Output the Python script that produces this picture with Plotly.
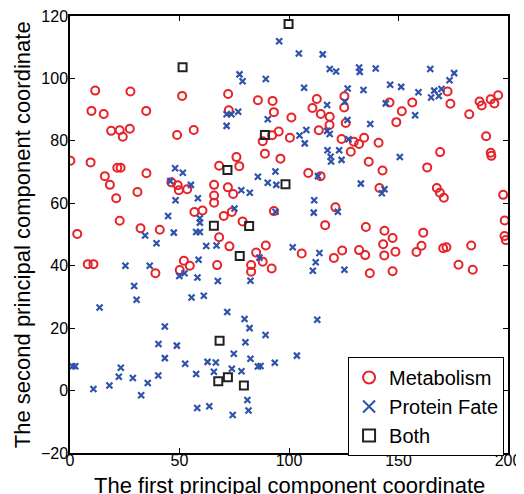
import plotly.graph_objects as go

# Metabolism (red circles)
met_x = [0.2, 9.4, 11.5, 27.6, 51.2, 9.8, 15.4, 34.8, 18.8, 22.7, 27.3, 24.1, 48.9, 56.5,
         72.2, 85.8, 92.5, 112.7, 125.3, 110.7, 125.2, 72.5, 93.1, 101.1, 114.5, 118.6, 118.5,
         125.9, 95.3, 92.3, 88.0, 100.4, 113.6, 124.0, 129.6, 132.0, 134.3, 128.2, 76.0, 89.0,
         96.1, 136.4, 172.4, 173.7, 145.9, 151.5, 156.3, 149.0, 182.3, 187.0, 188.0, 192.1,
         193.8, 195.5, 140.9, 190.0, 169.0, 192.1, 192.4, 15.9, 18.2, 21.6, 23.1, 34.9, 21.1,
         30.8, 46.3, 49.2, 49.7, 53.5, 68.1, 65.8, 65.8, 65.8, 56.8, 60.5, 22.7, 3.3, 32.2,
         41.0, 68.1, 8.1, 10.7, 52.0, 50.1, 54.7, 67.2, 39.0, 77.3, 108.8, 114.4, 72.1, 74.5,
         93.1, 121.2, 70.2, 73.9, 78.8, 116.5, 135.1, 72.8, 85.0, 89.4, 88.0, 92.1, 82.7, 82.7,
         105.8, 120.5, 124.3, 132.0, 134.8, 136.9, 142.7, 163.1, 141.3, 167.5, 168.9, 170.7,
         197.8, 198.5, 198.4, 199.0, 143.6, 147.3, 161.3, 143.0, 143.5, 148.6, 158.2, 160.5,
         170.4, 171.9, 183.2, 177.4, 183.9, 147.3]
met_y = [73.6, 73.1, 96.1, 95.8, 94.4, 89.6, 88.6, 89.6, 83.2, 83.4, 83.9, 81.3, 81.9, 83.5,
         95.0, 93.0, 92.8, 93.4, 94.3, 90.5, 90.7, 89.8, 89.2, 87.5, 88.6, 87.7, 85.1,
         85.7, 83.0, 81.8, 79.9, 81.0, 83.4, 80.6, 79.7, 79.0, 81.0, 76.5, 74.8, 75.9,
         74.3, 73.3, 95.8, 91.9, 92.3, 89.5, 92.3, 86.0, 88.5, 92.6, 91.3, 93.3,
         92.0, 94.6, 79.4, 81.5, 76.4, 76.2, 75.2, 68.7, 65.9, 71.4, 71.4, 69.6, 61.6,
         63.6, 66.7, 65.8, 64.2, 64.5, 72.0, 65.9, 62.5, 60.2, 57.2, 57.7, 54.4, 50.2, 52.0,
         51.5, 49.1, 40.5, 40.5, 41.6, 38.6, 40.0, 40.2, 37.6, 71.9, 69.7, 68.7, 65.1, 63.0,
         57.5, 58.7, 55.9, 57.2, 54.2, 53.0, 52.4, 46.2, 44.2, 46.5, 41.3, 39.1, 40.2, 38.1,
         43.9, 42.5, 44.9, 45.0, 43.4, 37.6, 70.5, 71.5, 64.9, 64.9, 63.4, 61.8,
         62.7, 54.5, 49.5, 48.2, 51.2, 48.9, 50.6, 46.9, 43.3, 44.5, 44.4, 46.4,
         45.6, 45.9, 46.5, 40.3, 38.7, 38.2]

# Protein Fate (blue crosses)
pf_x = [95.5, 104.5, 115.4, 118.6, 121.5, 132.0, 132.3, 77.4, 78.8, 89.4, 106.9, 126.8, 134.0,
        125.5, 117.4, 71.5, 73.7, 76.8, 71.5, 90.3, 126.7, 137.1, 107.9, 104.8, 107.2, 117.4,
        118.6, 127.2, 117.6, 122.9, 119.0, 119.2, 124.0, 139.6, 164.5, 175.4, 173.3, 146.2,
        151.2, 159.1, 166.3, 169.6, 164.9, 168.4, 144.2, 157.6, 150.6, 48.0, 51.5, 45.8, 55.2,
        48.2, 58.4, 44.8, 59.3, 59.3, 34.3, 47.4, 57.6, 59.3, 39.5, 62.2, 66.9, 25.3, 36.4,
        58.7, 49.9, 52.3, 58.2, 29.3, 67.5, 55.5, 61.1, 30.4, 85.8, 93.8, 90.3, 94.2, 113.2,
        132.8, 78.2, 82.1, 111.5, 111.3, 93.8, 122.3, 75.1, 86.5, 82.4, 101.7, 113.9, 112.2,
        110.9, 125.3, 143.6, 142.4, 13.5, 43.3, 40.4, 48.8, 43.3, 1.1, 2.4, 23.2, 22.3, 52.6,
        62.8, 66.6, 65.7, 57.6, 18.0, 10.7, 28.7, 35.5, 40.3, 32.5, 58.1, 63.6, 71.8, 79.7,
        82.0, 89.3, 112.9, 80.1, 74.8, 103.6, 82.4, 73.9, 78.3, 85.8, 87.0, 93.5, 81.0, 81.5,
        74.3]
pf_y = [111.9, 108.0, 107.7, 103.0, 102.2, 103.5, 102.1, 101.3, 99.1, 99.8, 97.0, 96.8, 96.3,
        92.5, 91.5, 88.5, 88.5, 89.3, 84.8, 86.9, 86.7, 85.4, 83.5, 81.7, 79.2, 83.2,
        82.2, 80.5, 77.0, 77.0, 74.9, 73.4, 73.9, 103.2, 103.0, 101.7, 99.4, 98.0,
        97.3, 95.6, 96.1, 96.6, 93.9, 94.4, 92.0, 88.2, 74.8, 71.2, 69.8, 67.1, 65.9,
        61.0, 61.6, 55.9, 55.2, 53.8, 49.7, 50.6, 50.8, 50.8, 47.2, 46.3, 46.5, 40.0, 40.0,
        41.9, 36.7, 37.6, 36.2, 33.5, 35.1, 29.8, 30.4, 29.1, 68.5, 70.2, 66.6, 65.9, 68.7,
        66.3, 64.2, 63.4, 61.0, 57.0, 57.3, 57.3, 58.3, 42.6, 35.2, 45.9, 44.1, 41.1,
        38.4, 38.7, 64.5, 63.2, 26.6, 20.5, 14.9, 14.4, 10.4, 7.8, 7.8, 7.3, 4.4, 8.6,
        9.2, 9.0, 6.0, 5.3, 1.6, 0.5, 4.0, 2.4, 4.8, -1.5, -5.6, -5.0, 25.2, 22.9,
        20.0, 17.8, 22.7, 15.5, 11.8, 11.2, 10.2, 7.0, 6.2, 7.7, 7.9, 8.9, -3.0, -6.4,
        -7.8]

# Both (black squares)
both_x = [51.4, 99.8, 89.0, 71.9, 98.4, 65.7, 81.8, 77.5, 68.3, 72.1, 67.7, 79.4]
both_y = [103.6, 117.4, 81.9, 70.7, 66.1, 52.8, 52.7, 43.1, 16.0, 4.3, 3.0, 1.6]

x_ticks = [0, 50, 100, 150, 200]
y_ticks = [-20, 0, 20, 40, 60, 80, 100, 120]

FONT = "Liberation Sans, Arial, Helvetica, sans-serif"

fig = go.Figure()
fig.add_trace(go.Scatter(
    x=met_x, y=met_y, mode="markers", name="Metabolism",
    marker=dict(symbol="circle-open", size=8, color="#e52329", line=dict(width=2, color="#e52329"))))
fig.add_trace(go.Scatter(
    x=pf_x, y=pf_y, mode="markers", name="Protein Fate",
    marker=dict(symbol="x-thin-open", size=6, color="#2f52ab", line=dict(width=2.2, color="#2f52ab"))))
fig.add_trace(go.Scatter(
    x=both_x, y=both_y, mode="markers", name="Both",
    marker=dict(symbol="square-open", size=8, color="#222222", line=dict(width=2, color="#222222"))))

axis_common = dict(
    showgrid=False, zeroline=False, showline=True, linecolor="black", linewidth=1.5,
    mirror="ticks", ticks="inside", ticklen=5, tickwidth=1, tickcolor="black",
    tickfont=dict(family=FONT, size=16, color="black"), automargin=False,
    ticklabeloverflow="allow",
)

# The page body adds an 8px offset, so the figure is 8px smaller and margins are shifted.
fig.update_layout(
    template="none",
    width=516, height=486,
    margin=dict(l=61.5, r=16.3, t=7.7, b=40.7, pad=0),
    plot_bgcolor="white", paper_bgcolor="white",
    font=dict(family=FONT, color="black"),
    xaxis=dict(range=[0, 200], tickvals=x_ticks, ticklabelstandoff=-8, **axis_common),
    yaxis=dict(range=[-20, 120], tickvals=y_ticks, ticklabelstandoff=-3, **axis_common),
    showlegend=True,
    legend=dict(
        x=0.991, y=-0.007, xanchor="right", yanchor="bottom",
        bgcolor="white", bordercolor="black", borderwidth=1,
        font=dict(family=FONT, size=20, color="black"),
        itemsizing="constant", tracegroupgap=0,
    ),
    annotations=[
        dict(text="The first principal component coordinate", xref="paper", yref="paper",
             x=0.5, y=-0.074, xanchor="center", yanchor="middle", showarrow=False,
             font=dict(family=FONT, size=22, color="black")),
        dict(text="The second principal component coordinate", xref="paper", yref="paper",
             x=-0.108, y=0.5, xanchor="center", yanchor="middle", showarrow=False, textangle=-90,
             font=dict(family=FONT, size=22, color="black")),
    ],
)

fig.write_html("out.html")
